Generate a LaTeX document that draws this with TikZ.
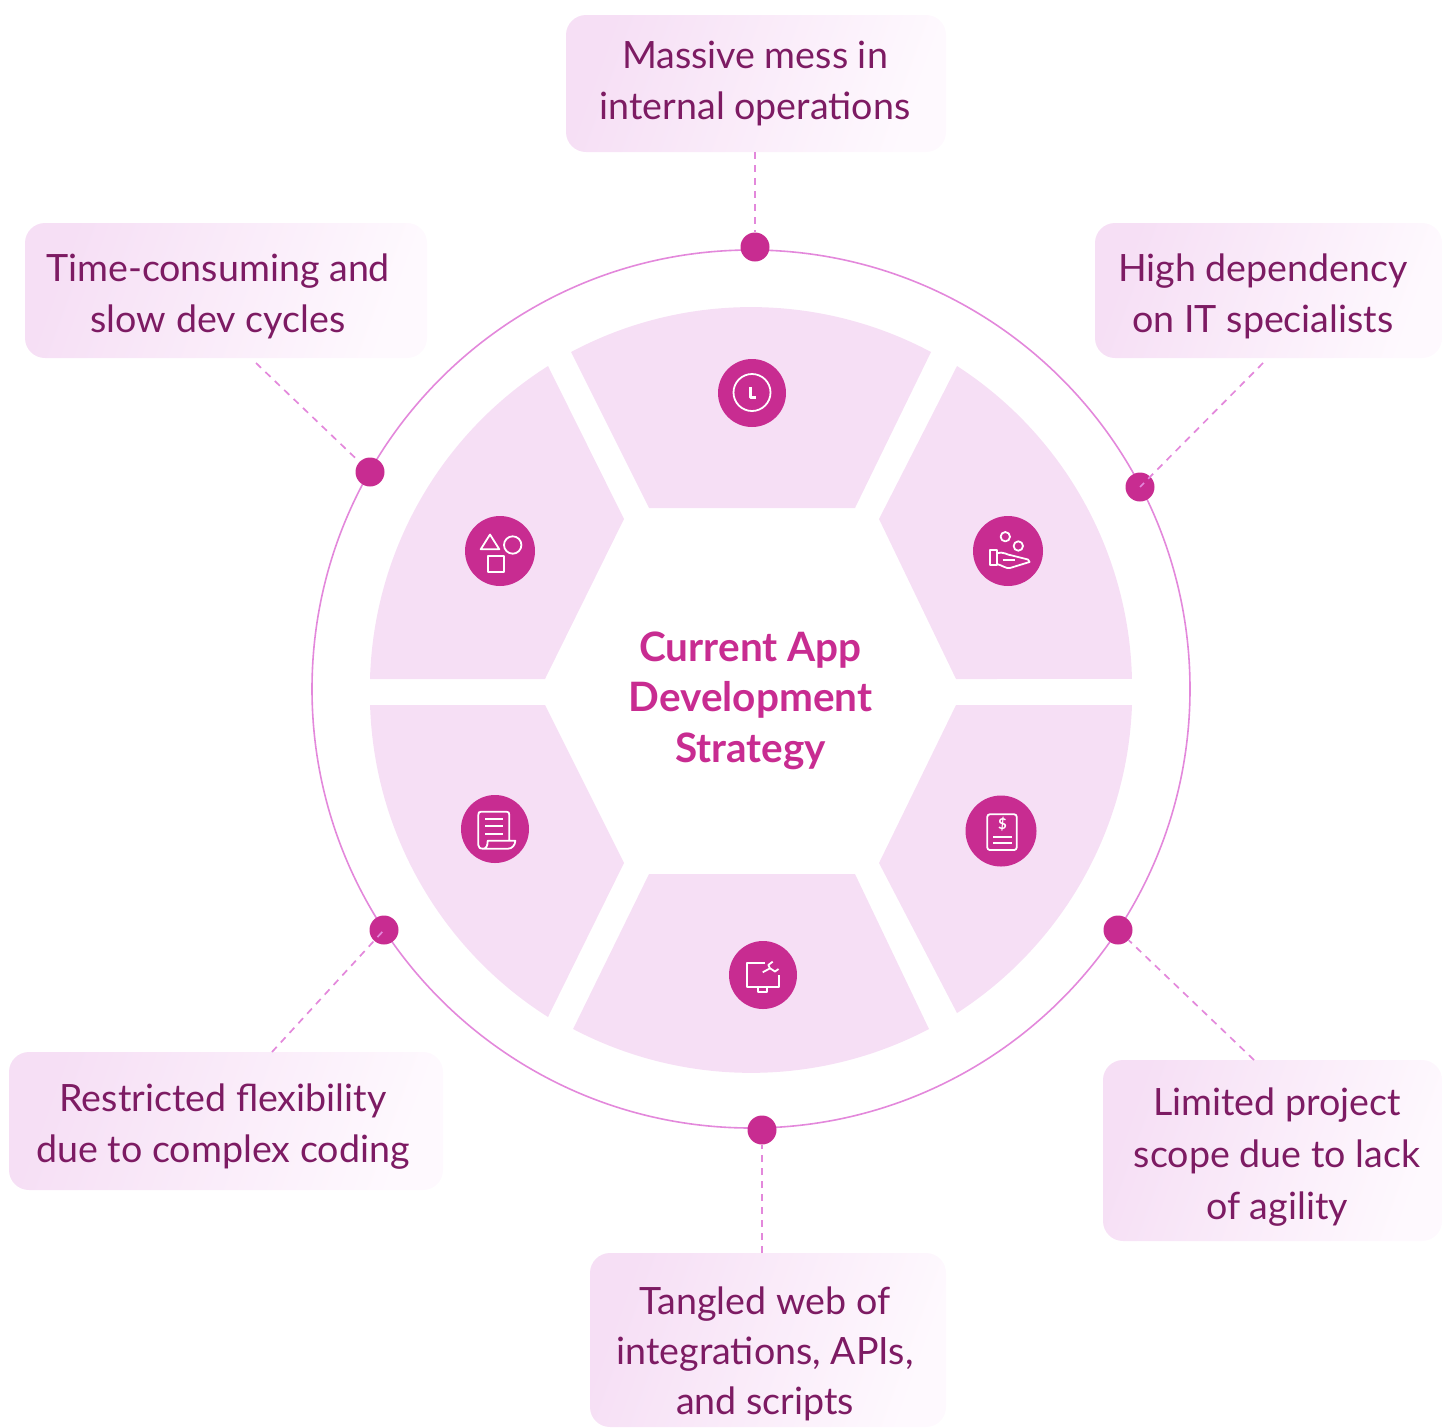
\documentclass[tikz,border=0pt]{standalone}
\usepackage{fontspec}
\setmainfont{Lato}
\definecolor{meihong}{HTML}{C82C91}
\definecolor{zihong}{HTML}{7D1B63}
\definecolor{danfen}{HTML}{F6DFF5}
\definecolor{qianfen}{HTML}{FEF9FE}
\definecolor{ringfen}{HTML}{E388DB}
\tikzset{
	sector/.style={fill=danfen},
	textbox/.style={rounded corners=20pt, draw=none, top color=danfen, bottom color=qianfen, shading angle=70, inner sep=0pt},
	boxtext/.style={text=zihong, align=center, inner sep=0pt, font=\fontsize{37.6}{51}\selectfont},
	link/.style={ringfen, line width=1.7pt, dash pattern=on 7pt off 6pt},
	marker/.style={circle, fill=meihong, inner sep=0pt, minimum size=29pt},
	badge/.style={circle, fill=meihong, inner sep=0pt, minimum size=#1},
	iconline/.style={draw=white, line width=1.8pt, line join=round},
}
\begin{document}
\begin{tikzpicture}[x=1pt,y=-1pt]
	\useasboundingbox (0,0) rectangle (1442,1427);
	% ring
	\draw[ringfen, line width=1.6pt] (751,689) circle[radius=439pt];
	% six sectors
	\fill[sector] (931,352) arc[start angle=61.97, end angle=118.03, radius=383pt] -- (649,508) -- (855,508) -- cycle;
	\fill[sector] (957,366) arc[start angle=57.12, end angle=1.30, radius=383pt] -- (956,679) -- (879,519) -- cycle;
	\fill[sector] (1132,705) arc[start angle=-2.05, end angle=-57.15, radius=383pt] -- (879,863) -- (956,705) -- cycle;
	\fill[sector] (929,1029) arc[start angle=-62.31, end angle=-117.69, radius=383pt] -- (649,874) -- (855,874) -- cycle;
	\fill[sector] (548,1017) arc[start angle=-122.34, end angle=-178.26, radius=383pt] -- (545,705) -- (624,863) -- cycle;
	\fill[sector] (370,679) arc[start angle=178.41, end angle=122.33, radius=383pt] -- (624,519) -- (545,679) -- cycle;
	% boxes
	\node[textbox, minimum width=380pt, minimum height=137pt] (mess) at (756,83.5) {};
	\node[textbox, minimum width=402pt, minimum height=135pt] (slow) at (226,290.5) {};
	\node[textbox, minimum width=347pt, minimum height=135pt] (depend) at (1268.5,290.5) {};
	\node[textbox, minimum width=339pt, minimum height=181pt] (scope) at (1272.5,1150.5) {};
	\node[textbox, minimum width=356pt, minimum height=174pt] (tangle) at (768,1340) {};
	\node[textbox, minimum width=434pt, minimum height=138pt] (flex) at (226,1121) {};
	% box texts
	\node[boxtext] (messtext) at (755,84) {Massive mess in\\internal operations};
	\node[boxtext] (slowtext) at (218,296.5) {Time-consuming and\\slow dev cycles};
	\node[boxtext] (dependtext) at (1263,296.5) {High dependency\\on IT specialists};
	\node[boxtext, font=\fontsize{37.6}{52}\selectfont] (scopetext) at (1277,1157) {Limited project\\scope due to lack\\of agility};
	\node[boxtext, font=\fontsize{37.6}{50}\selectfont] (tangletext) at (765,1353.5) {Tangled web of\\integrations, APIs,\\and scripts};
	\node[boxtext] (flextext) at (223,1126.5) {Restricted flexibility\\due to complex coding};
	\node[text=meihong, align=center, inner sep=0pt, font=\fontsize{40.5}{50.5}\selectfont\bfseries] (title) at (750.5,700.5) {Current App\\Development\\Strategy};
	% markers on the ring
	\foreach \n/\x/\y in {a/755/247, b/370/472, c/1140/487, d/1118/930, e/762/1130, f/384/930}{
		\node[marker] (dot\n) at (\x,\y) {};
	}
	\coordinate (froma) at (755,152);
	\coordinate (fromb) at (256,363);
	\coordinate (fromc) at (1263,363);
	\coordinate (fromd) at (1254,1060);
	\coordinate (frome) at (762,1253);
	\coordinate (fromf) at (272,1052);
	\draw[link] (froma) -- (dota);
	\draw[link] (fromb) -- (dotb);
	\draw[link] (fromc) -- (dotc.center);
	\draw[link] (fromd) -- (dotd);
	\draw[link] (frome) -- (dote);
	\draw[link] (fromf) -- (dotf.center);
	% icon discs
	\foreach \n/\x/\y/\s in {clock/752/393/68pt, hand/1008/551/70pt, bill/1001/831/71pt, screen/763/975/68pt, scroll/495/829/68pt, shapes/500/551/70pt}{
		\node[badge=\s] (\n) at (\x,\y) {};
	}
	% clock
	\draw[iconline] (752,392.5) circle[radius=18.5pt];
	\draw[iconline, line width=2.2pt] (750.5,387) -- (750.5,397.5) -- (756,397.5);
	% shapes
	\draw[iconline] (490,534.5) -- (480.7,549.3) -- (499.3,549.3) -- cycle;
	\draw[iconline] (512.7,545) circle[radius=8.7pt];
	\draw[iconline] (488,556) rectangle (504,571.7);
	% hand with coins
	\draw[iconline] (1005.3,536.7) circle[radius=4.7pt] (1018.3,546) circle[radius=4.7pt];
	\draw[iconline] (990,550) rectangle (996.7,565);
	\draw[iconline] (996.7,553.3) .. controls (1003,551) and (1007,555) .. (1012,555.5) -- (1028,559.5) -- (1029.5,562) -- (1010,568) .. controls (1006,569) and (1002,565) .. (996.7,564);
	\draw[iconline] (1002.7,560) -- (1015,560);
	% scroll
	\draw[iconline] (509.3,840.7) -- (509.3,815) .. controls (509.3,812.5) and (508.5,811.7) .. (506.5,811.7) -- (481,811.7) .. controls (479,811.7) and (478.3,812.5) .. (478.3,815) -- (478.3,845) .. controls (478.3,847.5) and (480,848.7) .. (483.3,848.7) -- (508,848.7) .. controls (512,848.7) and (515.3,845) .. (515.3,840.7) -- (487.7,840.7) .. controls (487.7,845) and (486.5,848.7) .. (483.3,848.7);
	\foreach \y in {818.7,826,833.7}{
		\draw[iconline] (485,\y) -- (502.7,\y);
	}
	% screen with wrench
	\draw[iconline] (765,963.3) -- (747.3,963.3) -- (747.3,986.7) -- (778.7,986.7) -- (778.7,975);
	\draw[iconline] (758.3,987) -- (758.3,992.3) -- (766.7,992.3) -- (766.7,987);
	\draw[iconline] (762.7,972.3) -- (770,968.3) -- (775,971.5) -- (778.5,969) (770,968.3) -- (768.3,965) -- (772.7,961.7);
	% bill
	\draw[iconline, rounded corners=2.5pt] (987.3,814.3) rectangle (1016.7,850);
	\draw[iconline] (993.3,836.7) -- (1012.3,836.7) (993.3,842.7) -- (1012.3,842.7);
	\node[text=white, inner sep=0pt, font=\fontsize{15}{15}\selectfont\bfseries] (dollar) at (1002.5,824.5) {\$};
\end{tikzpicture}
\end{document}
